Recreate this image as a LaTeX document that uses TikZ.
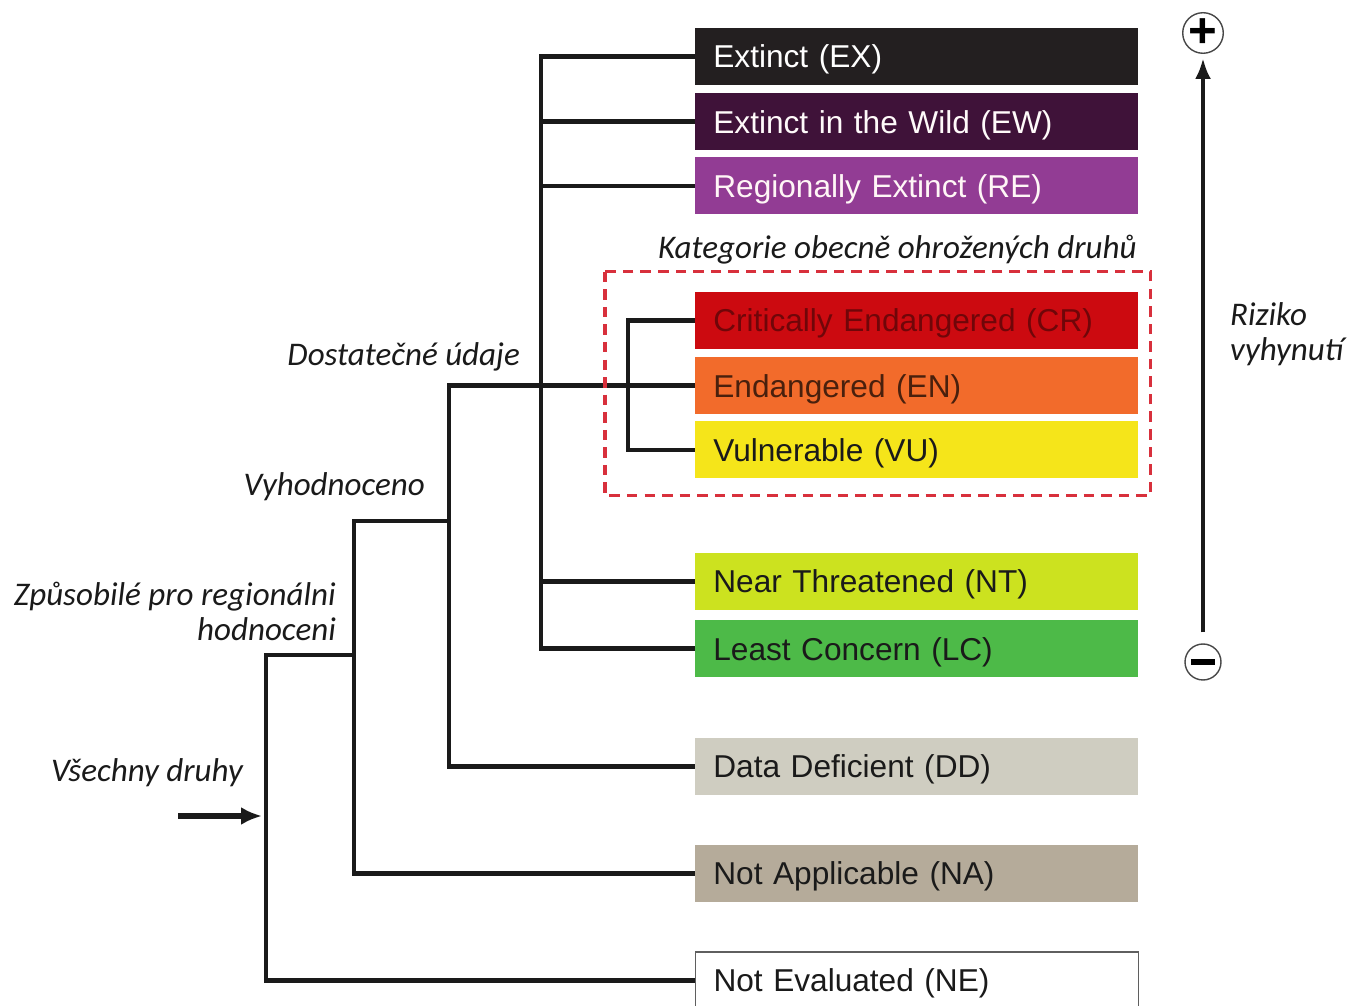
\documentclass[tikz,border=0pt]{standalone}
\usepackage{fontspec}
\setmainfont{Liberation Sans}
\newfontfamily\notefont{Carlito}
\usepackage{tikz}
\usetikzlibrary{positioning, arrows.meta, calc}
\usepackage{xcolor}
\definecolor{iucnEX}{HTML}{231F20}
\definecolor{iucnEW}{HTML}{3F1239}
\definecolor{iucnRE}{HTML}{923C94}
\definecolor{iucnCR}{HTML}{CC0A10}
\definecolor{iucnEN}{HTML}{F26B2B}
\definecolor{iucnVU}{HTML}{F5E51A}
\definecolor{iucnNT}{HTML}{CCE21F}
\definecolor{iucnLC}{HTML}{4DBA48}
\definecolor{iucnDD}{HTML}{CFCDC1}
\definecolor{iucnNA}{HTML}{B5AB9A}
\definecolor{iucnLine}{HTML}{1A1A1A}
\definecolor{iucnDash}{HTML}{D8303C}

\begin{document}
\begin{tikzpicture}[
        x=0.02cm, y=-0.02cm,
        font=\fontsize{18}{22}\selectfont,
        catbox/.style={
          rectangle, anchor=west, minimum width=8.86cm, minimum height=1.14cm,
          inner sep=0pt, text width=8.14cm, align=left, text depth=0pt
        },
        note/.style={font=\notefont\itshape\fontsize{18.8}{20}\selectfont, text=iucnLine, inner sep=1pt},
        branch/.style={line width=2.6pt, color=iucnLine},
        sign/.style={circle, draw=iucnLine!80, line width=0.8pt, minimum size=0.72cm, inner sep=0pt,
          font=\bfseries\fontsize{28}{28}\selectfont}
      ]
      \useasboundingbox (0,0) rectangle (1350,1006);

      % --- KATEGORIE VYHYNULYCH ---
      \node[catbox, fill=iucnEX, text=white] (ex) at (695,56.5) {Extinct (EX)};
      \node[catbox, fill=iucnEW, text=white!92!pink, below=0.15cm of ex] (ew) {Extinct in the Wild (EW)};
      \node[catbox, fill=iucnRE, text=white!85!pink, below=0.13cm of ew] (re) {Regionally Extinct (RE)};

      % --- OHROZENE ---
      \node[catbox, fill=iucnCR, text=iucnCR!55!black] (cr) at (695,320.5) {Critically Endangered (CR)};
      \node[catbox, fill=iucnEN, text=iucnEN!30!black, below=0.15cm of cr] (en) {Endangered (EN)};
      \node[catbox, fill=iucnVU, text=iucnLine, below=0.13cm of en] (vu) {Vulnerable (VU)};

      % --- OSTATNI ---
      \node[catbox, fill=iucnNT, text=iucnLine] (nt) at (695,581.5) {Near Threatened (NT)};
      \node[catbox, fill=iucnLC, text=iucnLine, below=0.19cm of nt] (lc) {Least Concern (LC)};
      \node[catbox, fill=iucnDD, text=iucnLine] (dd) at (695,766.5) {Data Deficient (DD)};
      \node[catbox, fill=iucnNA, text=iucnLine] (na) at (695,873.5) {Not Applicable (NA)};
      \node[catbox, draw=iucnLine!70, line width=0.6pt, fill=white, text=iucnLine] (ne) at (695,980.5) {Not Evaluated (NE)};

      % --- STROM ---
      \draw[branch] (ex.west) -- ++(-154,0) |- (lc.west);
      \draw[branch] (ew.west) -- ++(-154,0);
      \draw[branch] (re.west) -- ++(-154,0);
      \draw[branch] (nt.west) -- ++(-154,0);
      \draw[branch] (cr.west) -- ++(-67,0) |- (vu.west);
      \draw[branch] (en.west) -- ++(-246,0) |- (dd.west);

      \coordinate (evaluated) at (449,521);
      \coordinate (eligible) at (354,655);
      \coordinate (allIn) at (262,816);
      \draw[branch] (evaluated) -- ++(-95,0) |- (na.west);
      \draw[branch] (eligible) -- ++(-88,0) |- (ne.west);
      \draw[line width=3pt, color=iucnLine, -{Latex[length=0.42cm, width=0.36cm]}] ($(allIn)+(-84,0)$) -- (allIn);

      % --- POPISKY ---
      \node[note, anchor=east] (sufficientLbl) at (522,357) {Dostatečné údaje};
      \node[note, anchor=east] (evaluatedLbl) at (427,487) {Vyhodnoceno};
      \node[note, anchor=north east, align=right] (eligibleLbl) at (338,580) {Způsobilé pro regionálni\\hodnoceni};
      \node[note] (allLbl) at (147,773) {Všechny druhy};

      % --- RAMECEK OHROZENYCH ---
      \draw[color=iucnDash, line width=2pt, dash pattern=on 6pt off 4pt]
        ([xshift=-1.8cm, yshift=0.4cm]cr.north west) rectangle
        ([xshift=0.24cm, yshift=-0.34cm]vu.south east);
      \node[note, anchor=east] (threatLbl) at ([yshift=0.84cm]cr.north east) {Kategorie obecně ohrožených druhů};

      % --- RIZIKO ---
      \node[sign] (plus) at (1203,33) {+};
      \node[sign] (minus) at (1203,662) {\rule{0.48cm}{0.13cm}};
      \draw[line width=2.8pt, color=iucnLine, shorten <=0.22cm, shorten >=0.08cm,
        -{Latex[length=0.42cm, width=0.32cm]}] (minus) -- (plus);
      \node[note, anchor=north west, align=left] (riskLbl) at (1228,300) {Riziko\\vyhynutí};

    \end{tikzpicture}
\end{document}
